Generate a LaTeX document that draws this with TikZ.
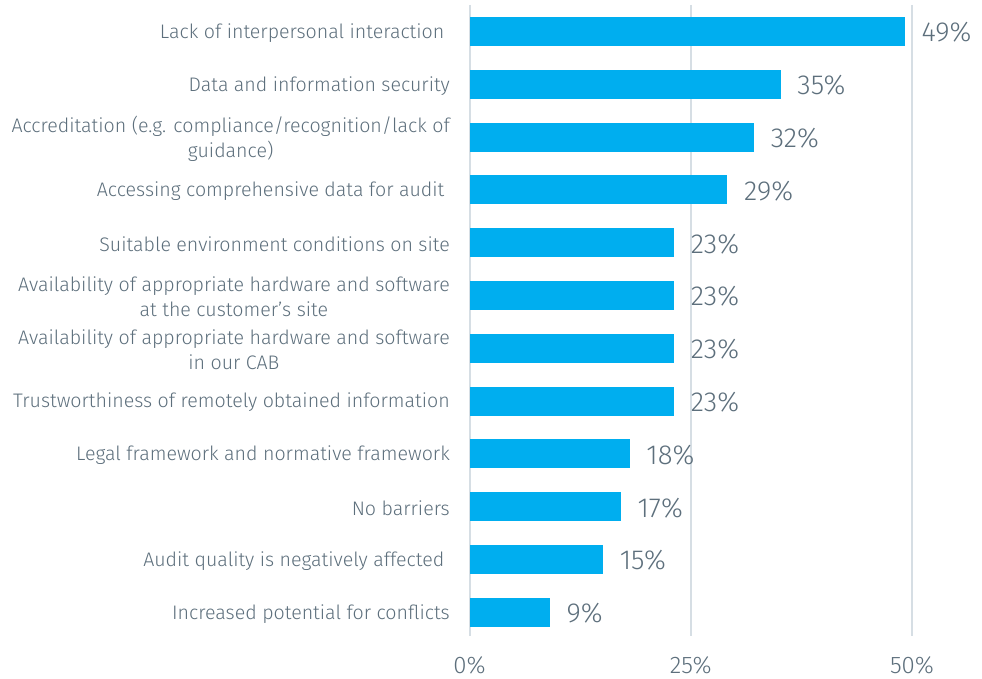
\documentclass[tikz,border=0pt]{standalone}
\usepackage{fontspec}
\setmainfont{Fira Sans Light}
\definecolor{barblue}{HTML}{00AEEF}
\definecolor{txt}{HTML}{5D6F7C}
\definecolor{grid}{HTML}{D6DEE4}
\begin{document}
\begin{tikzpicture}[x=1pt,y=-1pt,
  bar/.style={fill=barblue,draw=none},
  gridln/.style={draw=grid,line width=2pt},
  cat/.style={anchor=east,align=center,text=txt,font=\fontsize{19.6}{25}\selectfont,inner sep=0pt},
  val/.style={anchor=west,text=txt,font=\fontsize{27.5}{30}\selectfont,inner sep=0pt},
  axl/.style={anchor=center,text=txt,font=\fontsize{24}{28}\selectfont,inner sep=0pt}]
\useasboundingbox (0,0) rectangle (982,679);
\def\xz{469.5}
\def\k{8.85}
\def\kb{8.88}
% gridlines
\foreach \g/\n in {0/g0,25/g25,50/g50}{
  \coordinate (\n t) at ({\xz+\g*\k},5);
  \coordinate (\n b) at ({\xz+\g*\k},636);
  \draw[gridln] (\n t) -- (\n b);
}
\node[axl] (a0) at ({\xz},665) {0\%};
\node[axl] (a25) at ({\xz+25*\k},665) {25\%};
\node[axl] (a50) at ({\xz+50*\k},665) {50\%};
% bars
\foreach \i/\v/\lbl in {
  0/49/{Lack of interpersonal interaction\ },
  1/35/{Data and information security},
  2/32/{Accreditation (e.g. compliance/recognition/lack of\\guidance)},
  3/29/{Accessing comprehensive data for audit\ },
  4/23/{Suitable environment conditions on site},
  5/23/{Availability of appropriate hardware and software\\at the customer's site},
  6/23/{Availability of appropriate hardware and software\\in our CAB},
  7/23/{Trustworthiness of remotely obtained information},
  8/18/{Legal framework and normative framework},
  9/17/{No barriers},
  10/15/{Audit quality is negatively affected\ },
  11/9/{Increased potential for conflicts}}{
  \pgfmathsetmacro{\yc}{31.5+52.8*\i}
  \node[bar,minimum height=29pt,minimum width={\v*\kb*1pt},inner sep=0pt,anchor=west] (b\i) at (\xz,\yc) {};
  \node[val] (v\i) at ([xshift=16.5pt,yshift=-1pt]b\i.east) {\v\%};
  \node[cat] (c\i) at (450,{\yc+1.5}) {\lbl};
}
\end{tikzpicture}
\end{document}
